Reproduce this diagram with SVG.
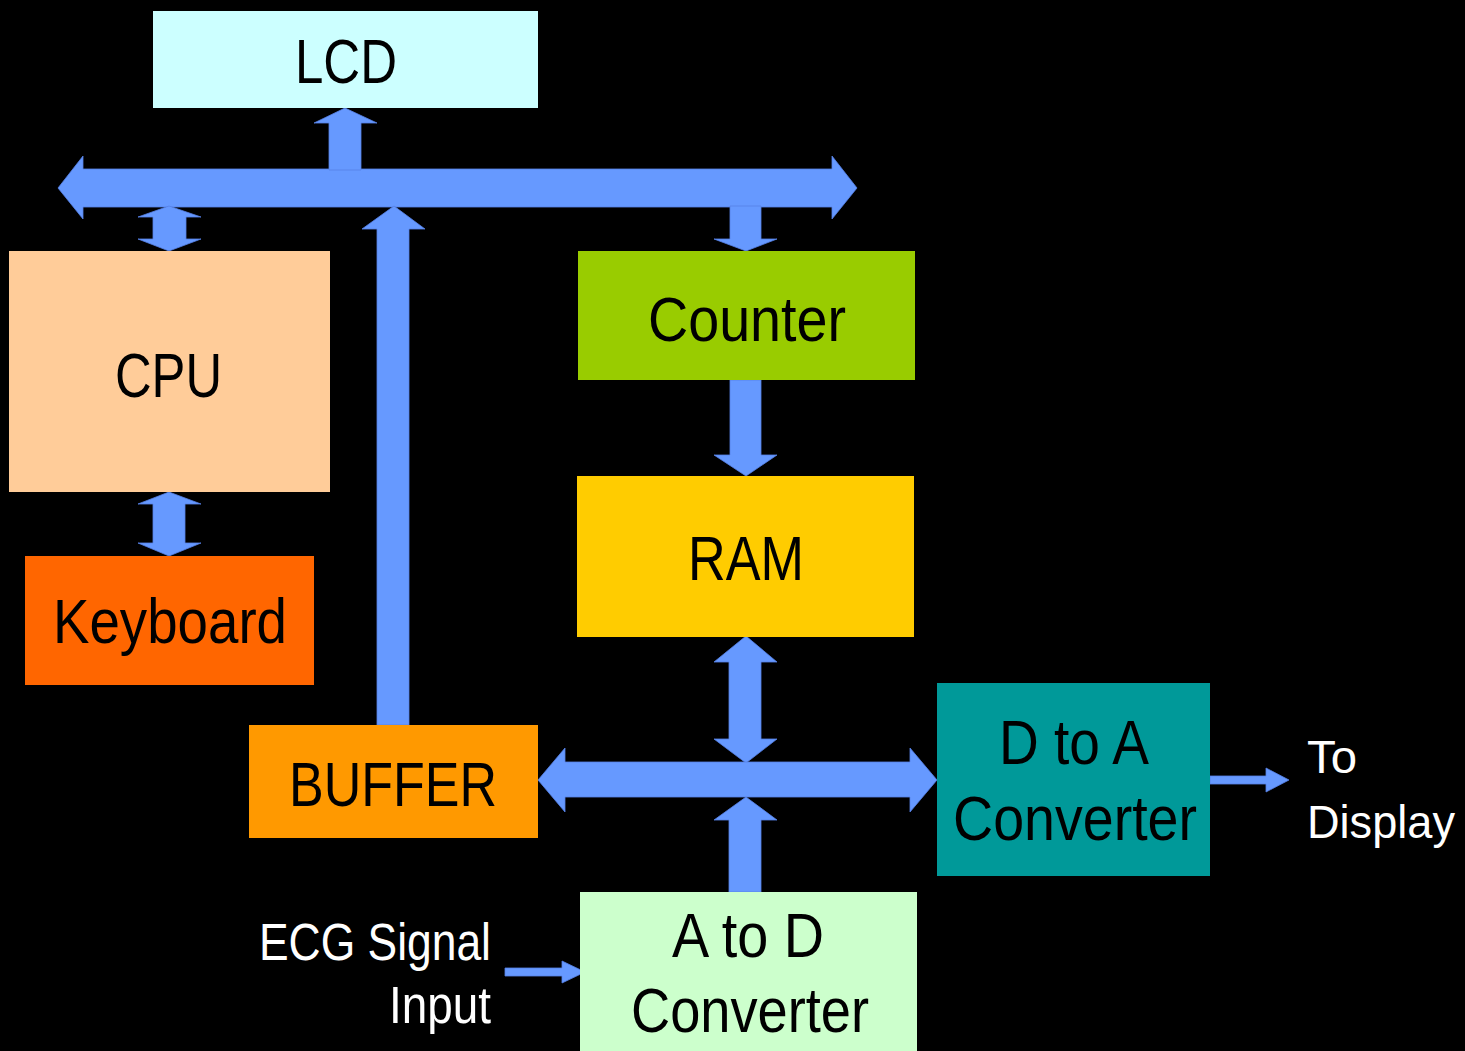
<svg xmlns="http://www.w3.org/2000/svg" width="1465" height="1051" viewBox="0 0 1465 1051">
<style>
.lbl{font-family:"Liberation Sans",Arial,sans-serif;font-size:63px;fill:#000}
.out{font-family:"Liberation Sans",Arial,sans-serif;font-size:51px;fill:#fff}
.out2{font-family:"Liberation Sans",Arial,sans-serif;font-size:47px;fill:#fff}
.arr{fill:#6699FF;stroke:#5580e6;stroke-width:0.8}
</style>
<rect x="0" y="0" width="1465" height="1051" fill="#000"/>
<g id="connectors">
<polygon class="arr" points="58,188 83,156 83,169 832,169 832,156 857,188 832,219 832,207 83,207 83,219"/>
<polygon class="arr" points="329,170 329,123 314,123 345,108 377,123 361,123 361,170"/>
<polygon class="arr" points="169,206 201,217 186,217 186,239 201,239 169,251 138,239 153,239 153,217 138,217"/>
<polygon class="arr" points="377,725 377,229 362,229 394,206 425,229 409,229 409,725"/>
<polygon class="arr" points="730,206 761,206 761,239 777,239 746,251 714,239 730,239"/>
<polygon class="arr" points="730,380 761,380 761,455 777,455 746,476 714,455 730,455"/>
<polygon class="arr" points="746,636 777,662 761,662 761,739 777,739 746,763 714,739 729,739 729,662 714,662"/>
<polygon class="arr" points="538,780 565,748 565,762 910,762 910,748 937,780 910,812 910,797 565,797 565,812"/>
<polygon class="arr" points="729,892 729,820 714,820 746,797 777,820 761,820 761,892"/>
<polygon class="arr" points="169,492 201,504 185,504 185,543 201,543 169,556 138,543 153,543 153,504 138,504"/>
<polygon class="arr" points="1210,776 1266,776 1266,768 1289,780 1266,792 1266,784 1210,784"/>
<polygon class="arr" points="505,968 562,968 562,961 585,972 562,983 562,976 505,976"/>
</g>
<g id="lcd">
<rect x="153" y="11" width="385" height="97" fill="#CCFFFF"/>
<text class="lbl" x="295" y="83" textLength="102" lengthAdjust="spacingAndGlyphs">LCD</text>
</g>
<g id="cpu">
<rect x="9" y="251" width="321" height="241" fill="#FFCC99"/>
<text class="lbl" x="115" y="397" textLength="107" lengthAdjust="spacingAndGlyphs">CPU</text>
</g>
<g id="keyboard">
<rect x="25" y="556" width="289" height="129" fill="#FF6600"/>
<text class="lbl" x="53" y="643" textLength="234" lengthAdjust="spacingAndGlyphs">Keyboard</text>
</g>
<g id="counter">
<rect x="578" y="251" width="337" height="129" fill="#99CC00"/>
<text class="lbl" x="648" y="341" textLength="198" lengthAdjust="spacingAndGlyphs">Counter</text>
</g>
<g id="ram">
<rect x="577" y="476" width="337" height="161" fill="#FFCC00"/>
<text class="lbl" x="688" y="580" textLength="116" lengthAdjust="spacingAndGlyphs">RAM</text>
</g>
<g id="buffer">
<rect x="249" y="725" width="289" height="113" fill="#FF9900"/>
<text class="lbl" x="289" y="806" textLength="208" lengthAdjust="spacingAndGlyphs">BUFFER</text>
</g>
<g id="dtoa">
<rect x="937" y="683" width="273" height="193" fill="#009999"/>
<text class="lbl" x="999" y="764" textLength="150" lengthAdjust="spacingAndGlyphs">D to A</text>
<text class="lbl" x="953" y="840" textLength="244" lengthAdjust="spacingAndGlyphs">Converter</text>
</g>
<g id="atod">
<rect x="580" y="892" width="337" height="159" fill="#CCFFCC"/>
<text class="lbl" x="672" y="957" textLength="152" lengthAdjust="spacingAndGlyphs">A to D</text>
<text class="lbl" x="631" y="1032" textLength="238" lengthAdjust="spacingAndGlyphs">Converter</text>
</g>
<g id="ecg-label">
<text class="out" x="259" y="960" textLength="232" lengthAdjust="spacingAndGlyphs">ECG Signal</text>
<text class="out" x="389" y="1023" textLength="102" lengthAdjust="spacingAndGlyphs">Input</text>
</g>
<g id="display-label">
<text class="out2" x="1307" y="773" textLength="50" lengthAdjust="spacingAndGlyphs">To</text>
<text class="out2" x="1307" y="838" textLength="148" lengthAdjust="spacingAndGlyphs">Display</text>
</g>
</svg>
